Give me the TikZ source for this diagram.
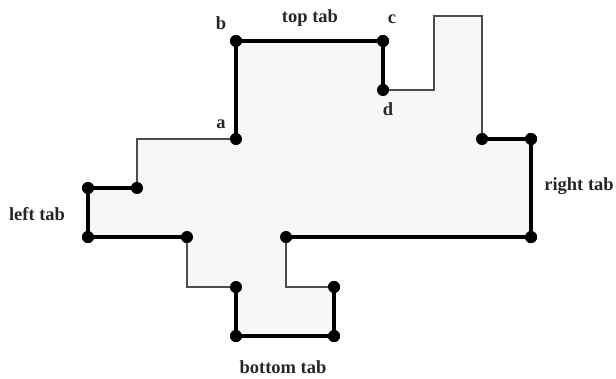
\documentclass[tikz,border=0pt]{standalone}
\usepackage{fontspec}
\setmainfont{Liberation Serif}
\begin{document}
\begin{tikzpicture}[x=1bp,y=-1bp,
  vtx/.style={circle,fill=black,inner sep=0pt,minimum size=12bp},
  boldedge/.style={line width=3.4bp,black,line join=miter},
  slimedge/.style={line width=1.3bp,black!70,line join=miter},
  lbl/.style={font=\fontsize{18.5bp}{20bp}\selectfont\bfseries,text=black!85,inner sep=0pt}]
\useasboundingbox (0,0) rectangle (616,378);
% vertices with dots
\node[vtx] (a) at (236,139) {};
\node[vtx] (b) at (236,41) {};
\node[vtx] (c) at (383,41) {};
\node[vtx] (d) at (383,90) {};
\node[vtx] (r1) at (482,139) {};
\node[vtx] (r2) at (531,139) {};
\node[vtx] (r3) at (531,237) {};
\node[vtx] (r4) at (286,237) {};
\node[vtx] (bt1) at (334,287) {};
\node[vtx] (bt2) at (334,336) {};
\node[vtx] (bt3) at (236,336) {};
\node[vtx] (bt4) at (236,287) {};
\node[vtx] (l1) at (187,237) {};
\node[vtx] (l2) at (88,237) {};
\node[vtx] (l3) at (88,188) {};
\node[vtx] (l4) at (137,188) {};
% plain corners
\coordinate (p1) at (434,90);
\coordinate (p2) at (434,16);
\coordinate (p3) at (482,16);
\coordinate (p4) at (286,287);
\coordinate (p5) at (187,287);
\coordinate (p6) at (137,139);
% fill
\fill[black!3] (a.center) -- (b.center) -- (c.center) -- (d.center) -- (p1) -- (p2) -- (p3) -- (r1.center) -- (r2.center) -- (r3.center) -- (r4.center) -- (p4) -- (bt1.center) -- (bt2.center) -- (bt3.center) -- (bt4.center) -- (p5) -- (l1.center) -- (l2.center) -- (l3.center) -- (l4.center) -- (p6) -- cycle;
% thin edges
\draw[slimedge] (d.center) -- (p1) -- (p2) -- (p3) -- (r1.center);
\draw[slimedge] (r4.center) -- (p4) -- (bt1.center);
\draw[slimedge] (bt4.center) -- (p5) -- (l1.center);
\draw[slimedge] (l4.center) -- (p6) -- (a.center);
% thick edges
\draw[boldedge] (a.center) -- (b.center) -- (c.center) -- (d.center);
\draw[boldedge] (r1.center) -- (r2.center) -- (r3.center) -- (r4.center);
\draw[boldedge] (bt1.center) -- (bt2.center) -- (bt3.center) -- (bt4.center);
\draw[boldedge] (l1.center) -- (l2.center) -- (l3.center) -- (l4.center);
% redraw dots on top
\foreach \n in {a,b,c,d,r1,r2,r3,r4,bt1,bt2,bt3,bt4,l1,l2,l3,l4}
  \fill (\n) circle (6bp);
% labels
\node[lbl] (la) at (221,124) {a};
\node[lbl] (lb) at (221,23) {b};
\node[lbl] (lc) at (392,19) {c};
\node[lbl] (ld) at (388,109) {d};
\node[lbl] (ltop) at (310,18) {top tab};
\node[lbl] (lleft) at (37,214) {left tab};
\node[lbl] (lright) at (579,186) {right tab};
\node[lbl] (lbottom) at (283,367) {bottom tab};
\end{tikzpicture}
\end{document}
